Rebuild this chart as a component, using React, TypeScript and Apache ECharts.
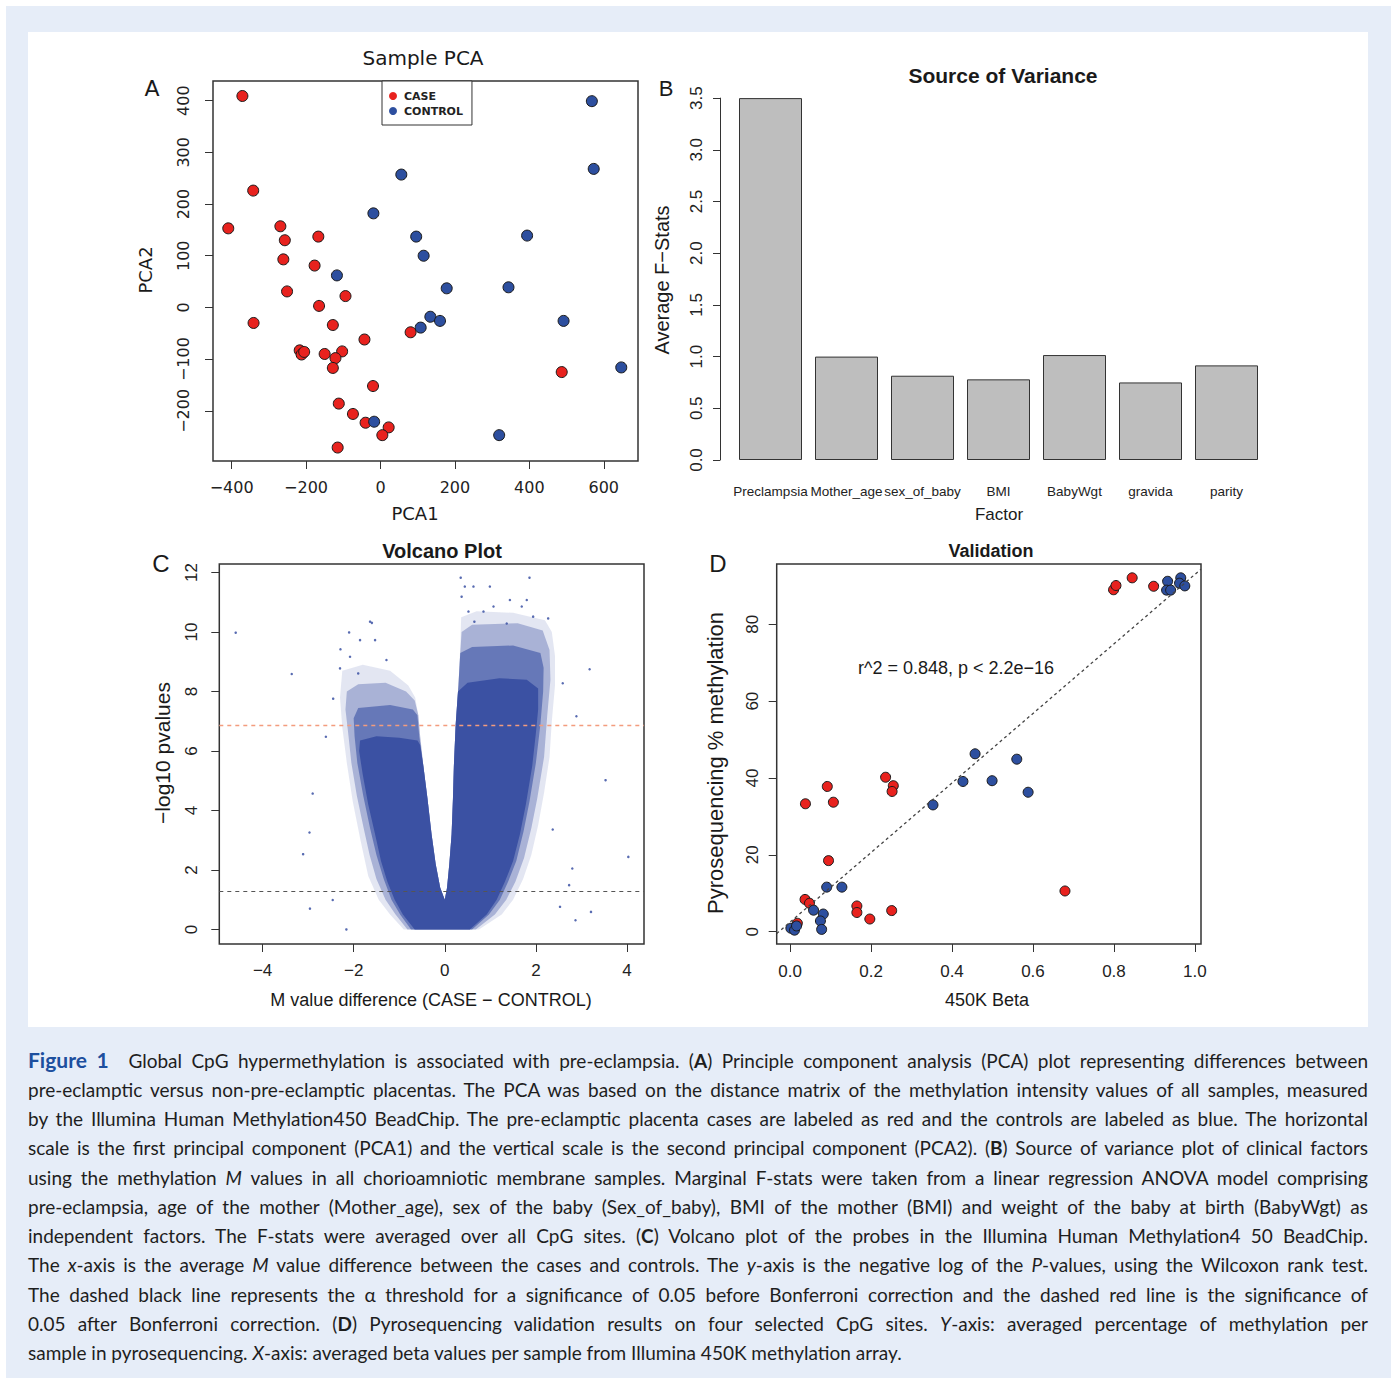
import React, { useEffect, useRef } from "react";
import * as echarts from "echarts";

const PAGE_W = 1391;
const PAGE_H = 1378;
const CHART_H = 1030;

// ---------- Panel A: Sample PCA ----------
const pcaCase: number[][] = [
  [-371, 409], [-342, 226], [-409, 153], [-269, 157], [-257, 130], [-261, 93], [-251, 31],
  [-167, 137], [-177, 81], [-165, 3], [-341, -30], [-94, 22], [-128, -34], [-43, -62],
  [-217, -83], [-212, -91], [-205, -86], [-150, -90], [-103, -85], [-121, -98], [-128, -117],
  [-20, -152], [-112, -186], [-74, -206], [-40, -223], [22, -232], [5, -247], [-115, -271],
  [81, -48], [487, -125],
];
const pcaControl: number[][] = [
  [568, 399], [573, 268], [56, 257], [-19, 182], [96, 137], [116, 100], [394, 139],
  [-117, 62], [178, 37], [344, 39], [134, -18], [160, -26], [108, -39], [492, -26],
  [647, -116], [-17, -221], [319, -247],
];
const pcaXTicks = [-400, -200, 0, 200, 400, 600];
const pcaYTicks = [-200, -100, 0, 100, 200, 300, 400];

// ---------- Panel B: Source of Variance ----------
const factors = ["Preclampsia", "Mother_age", "sex_of_baby", "BMI", "BabyWgt", "gravida", "parity"];
const fStats = [3.5, 1.0, 0.815, 0.78, 1.015, 0.75, 0.915];

// ---------- Panel C: Volcano Plot (density envelopes) ----------
const volcanoFringe: number[][] = [
  [-0.9, 0], [-1.2, 0.5], [-1.45, 1.0], [-1.68, 1.8], [-1.85, 3.0], [-2.02, 4.3], [-2.15, 5.6],
  [-2.25, 6.8], [-2.3, 7.8], [-2.25, 8.7], [-1.8, 8.9], [-1.2, 8.7], [-0.8, 8.2], [-0.65, 7.8],
  [-0.58, 7.2], [-0.54, 6.5], [-0.47, 5.5], [-0.38, 4.4], [-0.29, 3.2], [-0.2, 2.2], [-0.1, 1.4],
  [0.0, 1.0], [0.05, 1.4], [0.1, 2.2], [0.15, 3.2], [0.18, 4.4], [0.2, 5.5], [0.24, 6.9],
  [0.3, 8.2], [0.34, 9.5], [0.36, 10.5], [0.7, 10.7], [1.5, 10.65], [2.2, 10.4],
  [2.35, 10.0], [2.42, 9.2], [2.42, 8.2], [2.35, 7.0], [2.3, 5.8], [2.18, 4.6], [2.05, 3.5],
  [1.9, 2.5], [1.72, 1.7], [1.5, 1.0], [1.25, 0.5], [0.75, 0],
];
const volcanoOuter: number[][] = [
  [-0.82, 0], [-1.08, 0.5], [-1.3, 1.0], [-1.5, 1.7], [-1.65, 2.5], [-1.78, 3.4], [-1.93, 4.5],
  [-2.05, 5.6], [-2.12, 6.6], [-2.18, 7.4], [-2.15, 8.0], [-1.9, 8.25], [-1.3, 8.3], [-0.85, 8.0],
  [-0.66, 7.7], [-0.58, 7.2], [-0.54, 6.5], [-0.47, 5.5], [-0.38, 4.4], [-0.29, 3.2], [-0.2, 2.2],
  [-0.1, 1.4], [0.0, 1.0], [0.05, 1.4], [0.1, 2.2], [0.15, 3.2], [0.18, 4.4], [0.2, 5.5],
  [0.24, 6.9], [0.3, 8.2], [0.34, 9.3], [0.37, 10.0], [0.6, 10.25], [1.6, 10.3], [2.15, 10.05],
  [2.3, 9.4], [2.32, 8.4], [2.25, 7.2], [2.18, 5.8], [2.03, 4.4], [1.9, 3.4], [1.74, 2.4],
  [1.55, 1.6], [1.35, 1.0], [1.1, 0.5], [0.68, 0],
];
const volcanoMid: number[][] = [
  [-0.74, 0], [-0.98, 0.5], [-1.17, 1.0], [-1.34, 1.7], [-1.5, 2.5], [-1.64, 3.4], [-1.79, 4.5],
  [-1.92, 5.6], [-1.98, 6.5], [-2.0, 7.1], [-1.9, 7.45], [-1.2, 7.55], [-0.7, 7.4], [-0.6, 7.2],
  [-0.56, 6.5], [-0.47, 5.5], [-0.38, 4.4], [-0.29, 3.2], [-0.2, 2.2], [-0.1, 1.4], [0.0, 1.0],
  [0.05, 1.4], [0.1, 2.2], [0.15, 3.2], [0.18, 4.4], [0.2, 5.5], [0.24, 6.9], [0.3, 8.2],
  [0.34, 9.3], [0.6, 9.5], [1.5, 9.55], [2.1, 9.3], [2.17, 8.8], [2.16, 8.0], [2.1, 6.9],
  [2.0, 5.6], [1.86, 4.3], [1.73, 3.3], [1.57, 2.3], [1.39, 1.6], [1.21, 1.0], [0.97, 0.5],
  [0.6, 0],
];
const volcanoCore: number[][] = [
  [-0.66, 0], [-0.92, 0.5], [-1.1, 1.0], [-1.26, 1.6], [-1.4, 2.3], [-1.53, 3.2], [-1.68, 4.2],
  [-1.8, 5.2], [-1.88, 6.0], [-1.86, 6.35], [-1.5, 6.5], [-1.0, 6.45], [-0.6, 6.35], [-0.54, 6.2],
  [-0.47, 5.5], [-0.38, 4.4], [-0.29, 3.2], [-0.2, 2.2], [-0.1, 1.4], [0.0, 1.0], [0.05, 1.4],
  [0.1, 2.2], [0.15, 3.2], [0.18, 4.4], [0.2, 5.5], [0.24, 6.9], [0.29, 8.0], [0.5, 8.3],
  [1.2, 8.45], [1.8, 8.4], [2.05, 8.1], [2.05, 7.4], [2.0, 6.6], [1.92, 5.5], [1.78, 4.2],
  [1.65, 3.2], [1.5, 2.3], [1.32, 1.6], [1.14, 1.0], [0.92, 0.5], [0.55, 0],
];
const volcanoOutliers: number[][] = [
  [-4.59, 9.98], [-3.36, 8.59], [-2.9, 4.57], [-2.97, 3.26], [-3.11, 2.53], [-2.96, 0.7],
  [3.18, 8.75], [2.89, 7.17], [3.53, 5.02], [4.03, 2.44], [2.8, 2.05], [2.73, 1.49],
  [3.21, 0.59], [2.87, 0.31], [-1.6, 10.31], [-2.1, 9.99], [-2.29, 9.42], [1.86, 11.83],
  [0.35, 11.83], [2.59, 8.28], [2.37, 3.36], [2.53, 0.76], [-2.45, 7.76], [-2.61, 6.48],
  [-2.16, 0.0], [-2.46, 0.99],
  [0.44, 11.53], [0.63, 11.53], [0.99, 11.53], [1.43, 11.08], [1.07, 10.86], [0.52, 10.69],
  [0.85, 10.69], [1.69, 10.86], [1.94, 10.52], [2.27, 10.46], [0.65, 10.35], [1.36, 10.29],
  [0.37, 11.19], [1.8, 11.08],
  [-1.64, 10.35], [-1.86, 9.73], [-1.53, 9.73], [-1.28, 9.06], [-2.08, 9.17], [-2.3, 8.78],
  [-1.9, 8.61],
];
const volcanoXTicks = [-4, -2, 0, 2, 4];
const volcanoYTicks = [0, 2, 4, 6, 8, 10, 12];
const bonferroniLine = 6.87;
const nominalLine = 1.3;

// ---------- Panel D: Validation ----------
const valCase: number[][] = [
  [0.799, 89.0], [0.805, 90.1], [0.845, 92.1], [0.898, 89.9], [0.038, 33.3], [0.092, 37.8],
  [0.107, 33.7], [0.095, 18.5], [0.236, 40.2], [0.255, 38.0], [0.252, 36.5], [0.037, 8.4],
  [0.048, 7.4], [0.018, 2.2], [0.165, 6.7], [0.165, 5.0], [0.197, 3.3], [0.251, 5.5],
  [0.679, 10.6],
];
const valControl: number[][] = [
  [0.9325, 91.2], [0.93, 88.9], [0.94, 88.9], [0.965, 92.1], [0.962, 90.7], [0.975, 90.0],
  [0.457, 46.3], [0.56, 44.9], [0.427, 39.1], [0.499, 39.3], [0.588, 36.3], [0.353, 33.0],
  [0.0905, 11.6], [0.128, 11.6], [0.058, 5.6], [0.082, 4.6], [0.075, 2.8], [0.078, 0.6],
  [0.002, 0.9], [0.011, 0.4], [0.016, 1.5],
];
const valXTicks = [0, 0.2, 0.4, 0.6, 0.8, 1.0];
const valYTicks = [0, 20, 40, 60, 80];
const regIntercept = 2.5;
const regSlope = 90.5;
const valXMin = -0.033;
const valXMax = 1.015;

// ---------- Caption ----------
type Seg = [string, string?];
const captionLines: Seg[][] = [
  [["Figure 1", "fig"], ["Global CpG hypermethylation is associated with pre-eclampsia. ("], ["A", "b"], [") Principle component analysis (PCA) plot representing differences between"]],
  [["pre-eclamptic versus non-pre-eclamptic placentas. The PCA was based on the distance matrix of the methylation intensity values of all samples, measured"]],
  [["by the Illumina Human Methylation450 BeadChip. The pre-eclamptic placenta cases are labeled as red and the controls are labeled as blue. The horizontal"]],
  [["scale is the first principal component (PCA1) and the vertical scale is the second principal component (PCA2). ("], ["B", "b"], [") Source of variance plot of clinical factors"]],
  [["using the methylation "], ["M", "i"], [" values in all chorioamniotic membrane samples. Marginal F-stats were taken from a linear regression ANOVA model comprising"]],
  [["pre-eclampsia, age of the mother (Mother_age), sex of the baby (Sex_of_baby), BMI of the mother (BMI) and weight of the baby at birth (BabyWgt) as"]],
  [["independent factors. The F-stats were averaged over all CpG sites. ("], ["C", "b"], [") Volcano plot of the probes in the Illumina Human Methylation4 50 BeadChip."]],
  [["The "], ["x", "i"], ["-axis is the average "], ["M", "i"], [" value difference between the cases and controls. The "], ["y", "i"], ["-axis is the negative log of the "], ["P", "i"], ["-values, using the Wilcoxon rank test."]],
  [["The dashed black line represents the \u03b1 threshold for a significance of 0.05 before Bonferroni correction and the dashed red line is the significance of"]],
  [["0.05 after Bonferroni correction. ("], ["D", "b"], [") Pyrosequencing validation results on four selected CpG sites. "], ["Y", "i"], ["-axis: averaged percentage of methylation per"]],
  [["sample in pyrosequencing. "], ["X", "i"], ["-axis: averaged beta values per sample from Illumina 450K methylation array."]],
];

const CAP_LEFT = 28;
const CAP_W = 1340;
const CAP_TOP = 1060;
const CAP_STEP = 29.3;

const RED = "#e8221e";
const BLUE = "#2d4f9f";
const VBLUE = "59,81,163";
const ARIAL = "Liberation Sans";
const DEJAVU = "DejaVu Sans";

const minus = (v: number, digits?: number) =>
  (digits !== undefined ? v.toFixed(digits) : String(v)).replace("-", "\u2212");

function rAxis(
  gridIndex: number,
  min: number,
  max: number,
  ticks: number[],
  font: string,
  fontSize: number,
  margin: number,
  rotate: number,
  digits?: number
) {
  return {
    type: "value",
    gridIndex,
    min,
    max,
    axisLine: { show: false, onZero: false },
    axisTick: {
      show: true,
      inside: false,
      length: 8,
      customValues: ticks,
      lineStyle: { color: "#333", width: 1 },
    },
    axisLabel: {
      show: true,
      customValues: ticks,
      margin,
      rotate,
      fontSize,
      fontFamily: font,
      color: "#222",
      formatter: (v: number) => minus(v, digits),
    },
    splitLine: { show: false },
  };
}

function polygonSeries(points: number[][], fill: string) {
  return {
    type: "custom",
    xAxisIndex: 2,
    yAxisIndex: 2,
    silent: true,
    clip: true,
    data: points,
    renderItem: (params: any, api: any) => {
      if (params.dataIndex !== 0) return null;
      const pts = points.map((p) => api.coord(p));
      return { type: "polygon", shape: { points: pts }, style: { fill } };
    },
  };
}

function txt(
  text: string,
  x: number,
  y: number,
  fontSize: number,
  fontFamily: string,
  opts: { bold?: boolean; rot?: boolean; color?: string } = {}
) {
  return {
    type: "text",
    x,
    y,
    rotation: opts.rot ? Math.PI / 2 : 0,
    silent: true,
    style: {
      text,
      fontSize,
      fontFamily,
      fontWeight: opts.bold ? "bold" : "normal",
      fill: opts.color || "#1a1a1a",
      align: "center",
      verticalAlign: "middle",
    },
  };
}

function buildOption() {
  const gridBox = { show: true, borderColor: "#333", borderWidth: 1.5, backgroundColor: "transparent", outerBoundsMode: "none" };
  return {
    animation: false,
    textStyle: { fontFamily: ARIAL },
    grid: [
      { ...gridBox, left: 213, top: 81, width: 425, height: 380 },
      { show: false, left: 732.5, top: 98.1, width: 532, height: 361.9, outerBoundsMode: "none" },
      { ...gridBox, left: 219.3, top: 564, width: 424.7, height: 380 },
      { ...gridBox, left: 776.7, top: 564, width: 424.3, height: 380 },
    ],
    xAxis: [
      rAxis(0, -450, 692, pcaXTicks, DEJAVU, 16, 18, 0),
      {
        type: "category",
        gridIndex: 1,
        data: factors,
        axisLine: { show: false, onZero: false },
        axisTick: { show: false },
        axisLabel: { interval: 0, margin: 24, fontSize: 13.5, fontFamily: ARIAL, color: "#222" },
        splitLine: { show: false },
      },
      rAxis(2, -4.95, 4.374, volcanoXTicks, ARIAL, 17, 18, 0),
      rAxis(3, valXMin, valXMax, valXTicks, ARIAL, 17, 19, 0, 1),
    ],
    yAxis: [
      rAxis(0, -297, 438, pcaYTicks, DEJAVU, 16, 22, 90),
      {
        type: "value",
        gridIndex: 1,
        min: 0,
        max: 3.5,
        interval: 0.5,
        offset: 12.5,
        axisLine: { show: true, onZero: false, lineStyle: { color: "#333", width: 1 } },
        axisTick: { show: true, length: 7, lineStyle: { color: "#333", width: 1 } },
        axisLabel: {
          rotate: 90,
          margin: 15,
          fontSize: 17,
          fontFamily: ARIAL,
          color: "#222",
          formatter: (v: number) => v.toFixed(1),
        },
        splitLine: { show: false },
      },
      rAxis(2, -0.49, 12.29, volcanoYTicks, ARIAL, 17, 19, 90),
      rAxis(3, -3.2, 95.7, valYTicks, ARIAL, 17, 16, 90),
    ],
    legend: [
      {
        data: ["CASE", "CONTROL"],
        left: 382,
        top: 81,
        orient: "vertical",
        padding: [9.5, 9, 8.5, 7],
        itemGap: 4,
        itemWidth: 8,
        itemHeight: 8,
        icon: "circle",
        borderColor: "#333",
        borderWidth: 1,
        backgroundColor: "#fff",
        selectedMode: false,
        itemStyle: { borderWidth: 0 },
        textStyle: { fontFamily: DEJAVU, fontSize: 11, fontWeight: "bold", color: "#222", padding: [0, 0, 0, 2] },
      },
    ],
    series: [
      {
        name: "CASE",
        type: "scatter",
        xAxisIndex: 0,
        yAxisIndex: 0,
        data: pcaCase,
        symbolSize: 11,
        itemStyle: { color: RED, borderColor: "#1a1a1a", borderWidth: 1, opacity: 1 },
      },
      {
        name: "CONTROL",
        type: "scatter",
        xAxisIndex: 0,
        yAxisIndex: 0,
        data: pcaControl,
        symbolSize: 11,
        itemStyle: { color: BLUE, borderColor: "#1a1a1a", borderWidth: 1, opacity: 1 },
      },
      {
        name: "Average F-Stats",
        type: "bar",
        xAxisIndex: 1,
        yAxisIndex: 1,
        data: fStats,
        barWidth: 63,
        itemStyle: { color: "#bebebe", borderColor: "#333", borderWidth: 1 },
      },
      polygonSeries(volcanoFringe, `rgba(${VBLUE},0.14)`),
      polygonSeries(volcanoOuter, `rgba(${VBLUE},0.35)`),
      polygonSeries(volcanoMid, `rgba(${VBLUE},0.6)`),
      polygonSeries(volcanoCore, `rgb(${VBLUE})`),
      {
        name: "probes",
        type: "scatter",
        xAxisIndex: 2,
        yAxisIndex: 2,
        data: volcanoOutliers,
        symbolSize: 2.5,
        itemStyle: { color: `rgb(${VBLUE})`, opacity: 0.85 },
        markLine: {
          silent: true,
          symbol: "none",
          label: { show: false },
          data: [
            { yAxis: bonferroniLine, lineStyle: { color: "#f39c7e", type: [4, 4], width: 1.3 } },
            { yAxis: nominalLine, lineStyle: { color: "#555", type: [4, 4], width: 1.2 } },
          ],
        },
      },
      {
        name: "fit",
        type: "line",
        xAxisIndex: 3,
        yAxisIndex: 3,
        data: [
          [valXMin, regIntercept + regSlope * valXMin],
          [valXMax, regIntercept + regSlope * valXMax],
        ],
        symbol: "none",
        lineStyle: { color: "#444", width: 1.3, type: [3, 3] },
      },
      {
        name: "val case",
        type: "scatter",
        xAxisIndex: 3,
        yAxisIndex: 3,
        data: valCase,
        symbolSize: 10,
        itemStyle: { color: RED, borderColor: "#1a1a1a", borderWidth: 1, opacity: 1 },
      },
      {
        name: "val control",
        type: "scatter",
        xAxisIndex: 3,
        yAxisIndex: 3,
        data: valControl,
        symbolSize: 10,
        itemStyle: { color: BLUE, borderColor: "#1a1a1a", borderWidth: 1, opacity: 1 },
      },
    ],
    graphic: [
      txt("Sample PCA", 423, 58, 20, DEJAVU),
      txt("A", 152, 88, 22, DEJAVU),
      txt("PCA1", 415, 513, 18, DEJAVU),
      txt("PCA2", 145, 270, 18, DEJAVU, { rot: true }),
      txt("Source of Variance", 1003, 75, 21, ARIAL, { bold: true }),
      txt("B", 666, 88, 22, ARIAL),
      txt("Factor", 999, 514, 17, ARIAL),
      txt("Average F\u2212Stats", 662, 280, 20, ARIAL, { rot: true }),
      txt("Volcano Plot", 442, 551, 20, ARIAL, { bold: true }),
      txt("C", 161, 563, 24, ARIAL),
      txt("M value difference (CASE \u2212 CONTROL)", 431, 1000, 18, ARIAL),
      txt("\u2212log10 pvalues", 162, 753, 21, ARIAL, { rot: true }),
      txt("Validation", 991, 551, 18, ARIAL, { bold: true }),
      txt("D", 718, 563, 24, ARIAL),
      txt("450K Beta", 987, 1000, 18, ARIAL),
      txt("Pyrosequencing % methylation", 715, 763, 22, ARIAL, { rot: true }),
      txt("r^2 = 0.848, p < 2.2e\u221216", 956, 668, 18, ARIAL),
    ],
  };
}

function Caption() {
  const refs = useRef<(HTMLDivElement | null)[]>([]);
  useEffect(() => {
    const fit = () => {
      refs.current.forEach((el) => {
        if (!el) return;
        el.style.letterSpacing = "0px";
        el.style.width = "auto";
        const w = el.getBoundingClientRect().width;
        el.style.width = CAP_W + "px";
        const n = (el.textContent || "").length;
        if (w > CAP_W - 3 && n > 0) {
          el.style.letterSpacing = ((CAP_W - 3 - w) / n).toFixed(3) + "px";
        }
      });
    };
    fit();
    const fonts = (document as any).fonts;
    if (fonts && fonts.ready) fonts.ready.then(fit);
  }, []);
  return (
    <>
      {captionLines.map((segs, i) => (
        <div
          key={i}
          ref={(el) => {
            refs.current[i] = el;
          }}
          style={{
            position: "absolute",
            left: CAP_LEFT,
            top: CAP_TOP + CAP_STEP * i - CAP_STEP / 2,
            width: CAP_W,
            height: CAP_STEP,
            lineHeight: CAP_STEP + "px",
            whiteSpace: "nowrap",
            textAlign: "justify",
            textAlignLast: i === captionLines.length - 1 ? "left" : "justify",
            fontFamily: "Lato, 'Open Sans', sans-serif",
            fontSize: 19,
            color: "#1e1e1e",
          }}
        >
          {segs.map(([t, k], j) =>
            k === "fig" ? (
              <span key={j} style={{ color: "#1d4f9e", fontWeight: 700, fontSize: 21, marginRight: 10 }}>
                {t}{" "}
              </span>
            ) : k === "b" ? (
              <b key={j}>{t}</b>
            ) : k === "i" ? (
              <i key={j}>{t}</i>
            ) : (
              <span key={j}>{t}</span>
            )
          )}
        </div>
      ))}
    </>
  );
}

export default function App() {
  const ref = useRef<HTMLDivElement | null>(null);
  useEffect(() => {
    if (!ref.current) return;
    const chart = echarts.init(ref.current, undefined, { renderer: "svg" });
    chart.setOption(buildOption() as any);
    return () => chart.dispose();
  }, []);
  return (
    <div style={{ position: "absolute", left: 0, top: 0, width: PAGE_W, height: PAGE_H, background: "#fff", overflow: "hidden" }}>
      <div style={{ position: "absolute", left: 6, top: 6, width: PAGE_W - 6, height: PAGE_H - 6, background: "#e6edf8" }} />
      <div style={{ position: "absolute", left: 28, top: 32, width: 1340, height: 995, background: "#fff" }} />
      <div ref={ref} style={{ position: "absolute", left: 0, top: 0, width: PAGE_W, height: CHART_H }} />
      <Caption />
    </div>
  );
}
